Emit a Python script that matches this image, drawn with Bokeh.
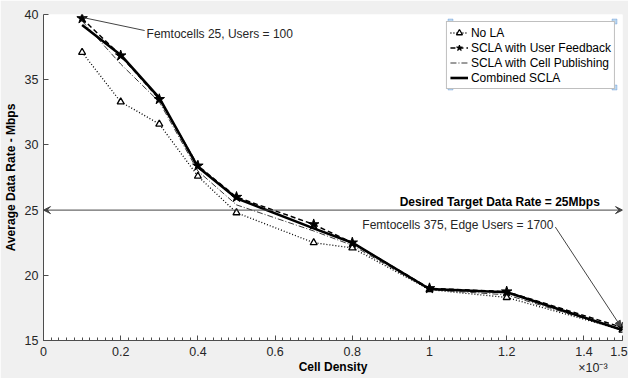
from bokeh.plotting import figure
from bokeh.models import (Range1d, FixedTicker, NumeralTickFormatter, Legend, LegendItem,
                          Label, Arrow, VeeHead, NormalHead, BoxAnnotation)
from bokeh.embed import file_html
from bokeh.resources import INLINE

# ---- data (cell density in units of 1e-3) ----
cell_density = [0.1, 0.2, 0.3, 0.4, 0.5, 0.7, 0.8, 1.0, 1.2, 1.5]
no_la = [37.1, 33.3, 31.6, 27.6, 24.8, 22.5, 22.1, 18.9, 18.3, 15.8]
scla_user_feedback = [39.7, 36.85, 33.5, 28.4, 26.0, 23.9, 22.5, 19.0, 18.75, 16.0]
scla_cell_publishing = [39.5, 36.2, 33.3, 28.0, 25.4, 23.4, 22.3, 18.9, 18.5, 15.8]
combined_scla = [39.2, 36.9, 33.6, 28.3, 25.9, 23.6, 22.5, 18.95, 18.7, 15.8]
x_ticks = [0, 0.2, 0.4, 0.6, 0.8, 1.0, 1.2, 1.4, 1.5]
y_ticks = [15, 20, 25, 30, 35, 40]
target_rate = 25
exponent_text = "×10⁻³"

FONT = "Liberation Sans"
TXT = "#262626"
NBSP = "\u00a0"

p = figure(width=628, height=378, output_backend="svg", toolbar_location=None,
           x_range=Range1d(0, 1.5), y_range=Range1d(15, 40),
           min_border_left=38, min_border_right=6, min_border_top=14, min_border_bottom=38)
p.background_fill_color = "white"
p.border_fill_color = "#f0f0f0"
p.outline_line_color = None
p.grid.visible = False

minor = [round(i * 0.02, 2) for i in range(0, 76)]
p.xaxis.ticker = FixedTicker(ticks=x_ticks, minor_ticks=minor)
p.xaxis.formatter = NumeralTickFormatter(format="0.[0]")
# last tick carries the exponent note on a second line (positioned with no-break spaces)
last_label = NBSP * 9 + "1.5\n" + exponent_text + NBSP * 6
p.xaxis.major_label_overrides = {1.5: last_label, "1.5": last_label}
p.yaxis.ticker = FixedTicker(ticks=y_ticks)
for ax in (p.xaxis, p.yaxis):
    ax.axis_line_color = "#4d4d4d"
    ax.major_tick_line_color = "#4d4d4d"
    ax.minor_tick_line_color = "#4d4d4d"
    ax.major_tick_in = 5
    ax.major_tick_out = 0
    ax.minor_tick_in = 3
    ax.minor_tick_out = 0
    ax.major_label_text_font = FONT
    ax.major_label_text_font_size = "12.5px"
    ax.major_label_text_color = TXT
    ax.axis_label_text_font = FONT
    ax.axis_label_text_font_size = "12px"
    ax.axis_label_text_font_style = "bold"
    ax.axis_label_text_color = "#000000"
p.yaxis.minor_tick_line_color = None
p.xaxis.major_label_standoff = 4
p.xaxis.axis_label_standoff = -18
p.yaxis.major_label_standoff = 5
p.yaxis.axis_label_standoff = 4
p.xaxis.axis_label = "Cell Density"
p.yaxis.axis_label = "Average Data Rate - Mbps"

# ---- series ----
r1l = p.line(cell_density, no_la, line_color="black", line_width=1.3, line_dash="1 2")
r1m = p.scatter(cell_density, no_la, marker="triangle", size=7, line_color="black",
                fill_color="white", line_width=1.3)
r3l = p.line(cell_density, scla_cell_publishing, line_color="#222222", line_width=0.9,
             line_dash="6 2 1 2")
r2l = p.line(cell_density, scla_user_feedback, line_color="black", line_width=1.5, line_dash="5 3")
r4l = p.line(cell_density, combined_scla, line_color="black", line_width=2.6)
r2m = p.scatter(cell_density, scla_user_feedback, marker="star", size=11, line_color="black",
                fill_color="black")

legend = Legend(items=[
    LegendItem(label="No LA", renderers=[r1l, r1m]),
    LegendItem(label="SCLA with User Feedback", renderers=[r2l, r2m]),
    LegendItem(label="SCLA with Cell Publishing", renderers=[r3l]),
    LegendItem(label="Combined SCLA", renderers=[r4l]),
], location="top_right")
legend.margin = 7
legend.padding = 3
legend.spacing = 0
legend.label_height = 15
legend.glyph_height = 15
legend.glyph_width = 18
legend.label_standoff = 3
legend.label_text_font = FONT
legend.label_text_font_size = "12px"
legend.label_text_color = "black"
legend.border_line_color = "#808080"
legend.border_line_width = 1
legend.background_fill_color = "white"
legend.background_fill_alpha = 1
p.add_layout(legend, "center")

# ---- annotations ----
p.add_layout(Arrow(x_start=0.75, y_start=target_rate, x_end=1.5, y_end=target_rate,
                   line_color="#444444", line_width=1,
                   end=VeeHead(size=7, fill_color="#444444", line_color="#444444")))
p.add_layout(Arrow(x_start=0.75, y_start=target_rate, x_end=0.0, y_end=target_rate,
                   line_color="#444444", line_width=1,
                   end=VeeHead(size=7, fill_color="#444444", line_color="#444444")))
p.add_layout(Label(x=1.182, y=25.05, text="Desired Target Data Rate = 25Mbps",
                   text_font=FONT, text_font_size="12px", text_font_style="bold",
                   text_color="black", text_align="center", text_baseline="bottom"))

p.add_layout(Arrow(x_start=0.262, y_start=38.77, x_end=0.105, y_end=39.75,
                   line_color="#444444", line_width=1, end=None))
p.add_layout(Label(x=0.267, y=38.54, text="Femtocells 25, Users = 100",
                   text_font=FONT, text_font_size="12px", text_color=TXT,
                   text_align="left", text_baseline="middle"))

p.add_layout(Arrow(x_start=1.326, y_start=23.7, x_end=1.496, y_end=16.05,
                   line_color="#444444", line_width=1,
                   end=NormalHead(size=6, fill_color="#444444", line_color="#444444")))
p.add_layout(Label(x=0.826, y=23.85, text="Femtocells 375, Edge Users = 1700",
                   text_font=FONT, text_font_size="12px", text_color=TXT,
                   text_align="left", text_baseline="middle"))

# legend selection handles (decorative)
for (hx, hy) in [(450, 21), (614, 21), (450, 87), (614, 87)]:
    p.add_layout(BoxAnnotation(left=hx - 2.5, right=hx + 2.5, top=hy - 2.5, bottom=hy + 2.5,
                               left_units="canvas", right_units="canvas",
                               top_units="canvas", bottom_units="canvas",
                               fill_color="#bcd7ef", fill_alpha=1,
                               line_color="#3d7cc9", line_width=1, level="overlay"))

open("out.html", "w").write(file_html(p, INLINE))
